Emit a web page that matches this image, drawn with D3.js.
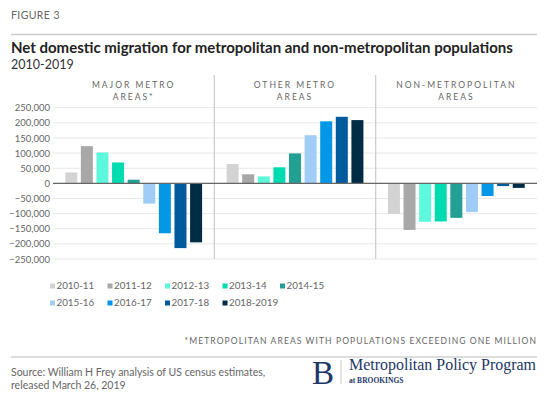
<!DOCTYPE html>
<meta charset="utf-8">
<style>
body { margin: 0; background: #fff; }
.sans { font-family: Lato, "Open Sans", sans-serif; }
.serif { font-family: "Liberation Serif", "DejaVu Serif", serif; }
</style>
<body>
<script src="https://cdn.jsdelivr.net/npm/d3@7"></script>
<script>

// data
var areas = ["major", "other", "non"];
var areaLabels = [["MAJOR METRO", "AREAS*"], ["OTHER METRO", "AREAS"], ["NON-METROPOLITAN", "AREAS"]];
var years = ["2010-11", "2011-12", "2012-13", "2013-14", "2014-15", "2015-16", "2016-17", "2017-18", "2018-2019"];
var majorMetro = [36000, 123000, 102000, 69000, 12000, -67000, -165000, -214000, -195000];
var otherMetro = [64000, 30000, 23000, 53000, 99000, 159000, 205000, 220000, 209000];
var nonMetro = [-101000, -154000, -127000, -126000, -114000, -95000, -42000, -9000, -15000];
var yTicks = [250000, 200000, 150000, 100000, 50000, 0, -50000, -100000, -150000, -200000, -250000];
var colors = ["#d3d3d3", "#a8a8a8", "#5ef8dc", "#00dbb0", "#23a094", "#9fcdf7", "#0397e6", "#005b9e", "#002d45"];

var series = [majorMetro, otherMetro, nonMetro];

var width = 548, height = 396;

var svg = d3.select("body").append("svg")
    .attr("width", width)
    .attr("height", height);

// header
svg.append("text")
    .attr("class", "sans")
    .attr("x", 11).attr("y", 19)
    .attr("font-size", "10.5px").attr("fill", "#666")
    .attr("letter-spacing", "0.4px")
    .text("FIGURE 3");

svg.append("line")
    .attr("x1", 11).attr("x2", 537).attr("y1", 34.5).attr("y2", 34.5)
    .attr("stroke", "#ccc").attr("stroke-width", 1.5);

svg.append("text")
    .attr("class", "sans")
    .attr("x", 11).attr("y", 53)
    .attr("font-size", "15px").attr("font-weight", "bold").attr("fill", "#222")
    .text("Net domestic migration for metropolitan and non-metropolitan populations");

svg.append("text")
    .attr("class", "sans")
    .attr("x", 11).attr("y", 68.5)
    .attr("font-size", "12.5px").attr("fill", "#333")
    .text("2010-2019");

// scales
var x0 = d3.scaleBand().domain(areas).range([53, 537]);
var x1 = d3.scaleBand().domain(years).range([0, x0.bandwidth()])
    .paddingInner(0.23).paddingOuter(0.785);
var y = d3.scaleLinear().domain([-250000, 250000]).range([259, 107.7]);
var z = d3.scaleOrdinal().domain(years).range(colors);

// gridlines
svg.append("g")
  .selectAll("line")
  .data(yTicks)
  .enter().append("line")
    .attr("x1", 53).attr("x2", 537)
    .attr("y1", function(d) { return y(d); })
    .attr("y2", function(d) { return y(d); })
    .attr("stroke", "#e8e8e8");

// y axis labels
var yAxis = svg.append("g")
    .attr("transform", "translate(53,0)")
    .call(d3.axisLeft(y).tickValues(yTicks).tickSize(0).tickPadding(3)
      .tickFormat(d3.format(",")));
yAxis.select(".domain").remove();
yAxis.selectAll("text")
    .attr("class", "sans")
    .attr("font-size", "9.5px")
    .attr("fill", "#666");

// panel dividers
svg.append("g")
  .selectAll("line")
  .data(areas.slice(1))
  .enter().append("line")
    .attr("x1", function(d) { return x0(d); })
    .attr("x2", function(d) { return x0(d); })
    .attr("y1", 75).attr("y2", 259)
    .attr("stroke", "#ccc").attr("stroke-width", 1.2);

// panel titles
areas.forEach(function(a, i) {
  var t = svg.append("text")
      .attr("class", "sans")
      .attr("text-anchor", "middle")
      .attr("font-size", "8.5px").attr("fill", "#666")
      .attr("letter-spacing", "2px");
  areaLabels[i].forEach(function(line, j) {
    t.append("tspan")
        .attr("x", x0(a) + x0.bandwidth() / 2)
        .attr("y", 88 + j * 12)
        .text(line);
  });
});

// bars
areas.forEach(function(a, i) {
  svg.append("g")
      .attr("transform", "translate(" + x0(a) + ",0)")
    .selectAll("rect")
    .data(series[i])
    .enter().append("rect")
      .attr("x", function(d, k) { return x1(years[k]); })
      .attr("width", x1.bandwidth())
      .attr("y", function(d) { return y(Math.max(0, d)); })
      .attr("height", function(d) { return Math.abs(y(d) - y(0)); })
      .attr("fill", function(d, k) { return z(years[k]); });
});

// zero line
svg.append("line")
    .attr("x1", 53).attr("x2", 537)
    .attr("y1", y(0)).attr("y2", y(0))
    .attr("stroke", "#666").attr("stroke-width", 1.2);

// legend
var legend = svg.append("g")
  .selectAll("g")
  .data(years)
  .enter().append("g")
    .attr("transform", function(d, i) {
      var col = i < 5 ? i : i - 5, row = i < 5 ? 0 : 1;
      return "translate(" + (50 + col * 57.5) + "," + (286 + row * 17) + ")";
    });
legend.append("rect")
    .attr("x", 0).attr("y", -2.5)
    .attr("width", 5).attr("height", 5)
    .attr("fill", function(d) { return z(d); });
legend.append("text")
    .attr("class", "sans")
    .attr("x", 6.5).attr("dy", "0.35em")
    .attr("font-size", "9.8px").attr("fill", "#666")
    .text(function(d) { return d; });

// footnote
svg.append("text")
    .attr("class", "sans")
    .attr("x", 537).attr("y", 344)
    .attr("text-anchor", "end")
    .attr("font-size", "8.5px").attr("fill", "#666")
    .attr("letter-spacing", "1.1px")
    .text("*METROPOLITAN AREAS WITH POPULATIONS EXCEEDING ONE MILLION");

svg.append("line")
    .attr("x1", 11).attr("x2", 537).attr("y1", 357).attr("y2", 357)
    .attr("stroke", "#bbb").attr("stroke-width", 1.2);

// source
svg.append("text")
    .attr("class", "sans")
    .attr("x", 11).attr("y", 376)
    .attr("font-size", "10.5px").attr("fill", "#666")
    .text("Source: William H Frey analysis of US census estimates,");
svg.append("text")
    .attr("class", "sans")
    .attr("x", 11).attr("y", 388.5)
    .attr("font-size", "10.5px").attr("fill", "#666")
    .text("released March 26, 2019");

// logo
var navy = "#1d3767";
svg.append("text")
    .attr("class", "serif")
    .attr("x", 312).attr("y", 383.5)
    .attr("font-size", "33px").attr("fill", navy)
    .text("B");
svg.append("line")
    .attr("x1", 341).attr("x2", 341).attr("y1", 360).attr("y2", 384)
    .attr("stroke", "#bbb").attr("stroke-width", 0.8);
svg.append("text")
    .attr("class", "serif")
    .attr("x", 349).attr("y", 370)
    .attr("font-size", "16px").attr("fill", navy)
    .attr("textLength", 187).attr("lengthAdjust", "spacingAndGlyphs")
    .text("Metropolitan Policy Program");
svg.append("text")
    .attr("class", "serif")
    .attr("x", 349).attr("y", 383)
    .attr("font-size", "7.5px").attr("font-weight", "bold").attr("fill", navy)
    .text("at BROOKINGS");

</script>
</body>
